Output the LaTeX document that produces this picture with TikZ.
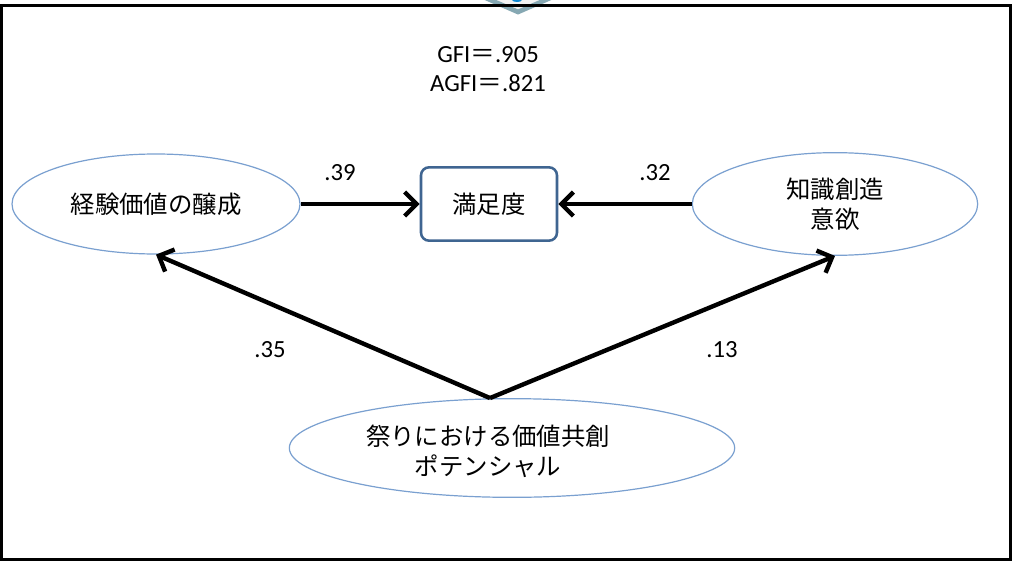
\documentclass[tikz,border=0pt]{standalone}
\usepackage{fontspec}
\setmainfont{Carlito}
\newfontfamily\jp{Noto Sans CJK JP}
\usetikzlibrary{arrows.meta,shapes.geometric}
\definecolor{ellblue}{HTML}{7AA0D0}
\definecolor{boxblue}{HTML}{3F6591}
\definecolor{teal1}{HTML}{86A8B3}
\begin{document}
\begin{tikzpicture}[x=0.75pt,y=-0.75pt,
  latent/.style={ellipse,draw=ellblue,line width=0.9pt,inner sep=0pt,fill=white},
  jptext/.style={align=center,font=\jp\fontsize{18.3}{22.5}\selectfont},
  obsbox/.style={draw=boxblue,line width=1.9pt,rounded corners=6pt,fill=white,
    minimum width=102pt,minimum height=55pt,inner sep=0pt,font=\jp\fontsize{18.3}{22.5}\selectfont},
  arr/.style={line width=3.3pt,-{Straight Barb[length=9pt,width=18pt,line width=3.3pt]}},
  coef/.style={font=\fontsize{18.5}{22}\selectfont}]
\useasboundingbox (0,0) rectangle (1012,563);
\fill[white] (0,0) rectangle (1012,563);
% top chevron
\draw[teal1,line width=3.5pt,fill=black!5] (463,-12) -- (518,12) -- (573,-12);
\fill[cyan!70!blue] (517,0) ellipse (5 and 2);
% frame
\draw[black,line width=2.6pt] (1.7,5.3) rectangle (1010.5,559.5);
% fit indices
\node[align=center,font=\fontsize{18.5}{21.75}\selectfont] (fit) at (488,69)
  {GFI{\jp ＝}.905\\AGFI{\jp ＝}.821};
% nodes
\node[latent,minimum width=216pt,minimum height=75pt,jptext] (left) at (156,204) {経験価値の醸成};
\node[obsbox] (box) at (489,204) {満足度};
\node[latent,minimum width=214pt,minimum height=77pt,jptext] (right) at (835,204) {知識創造\\意欲};
\node[latent,minimum width=334pt,minimum height=74pt] (bot) at (512,448) {};
\node[jptext] (botlabel) at (488,451) {祭りにおける価値共創\\ポテンシャル};
\path (bot.north) ++(-22,0) coordinate (apex);
% connectors
\draw[arr] (left.east) -- (box.west);
\draw[arr] (right.west) -- (box.east);
\draw[arr] (apex) -- (left.south);
\draw[arr] (apex) -- (right.south);
% coefficients
\node[coef] (c39) at (340,173) {.39};
\node[coef] (c32) at (655,173) {.32};
\node[coef] (c35) at (270,350) {.35};
\node[coef] (c13) at (722,350) {.13};
\end{tikzpicture}
\end{document}
